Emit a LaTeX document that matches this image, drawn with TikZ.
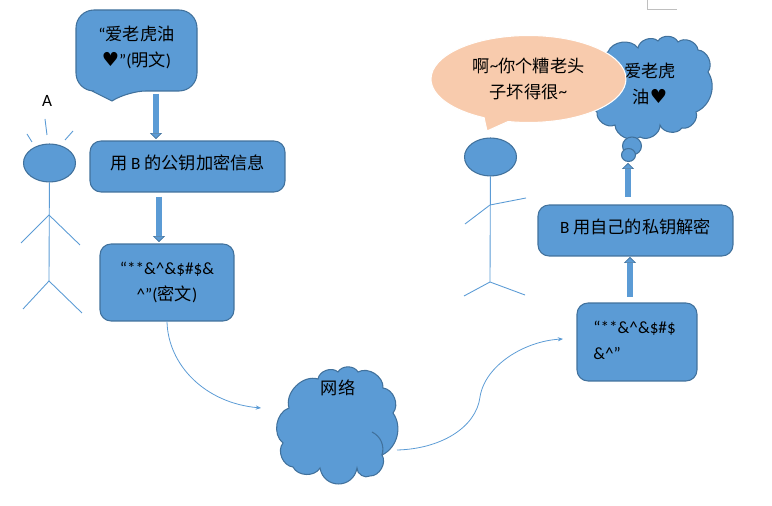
\documentclass[tikz,border=0pt]{standalone}
\usepackage{fontspec}
\setmainfont{Carlito}
\newfontfamily\zhfont{Noto Sans CJK SC}
\newfontfamily\symfont{DejaVu Sans}
\usepackage{tikz}
\usetikzlibrary{calc,arrows.meta,shapes.geometric,shapes.callouts}
\definecolor{colorbox}{HTML}{5B9BD5}
\definecolor{colorrim}{HTML}{41719C}
\definecolor{colortalk}{HTML}{F8CBAD}
\definecolor{colorpage}{HTML}{BFBFBF}
\tikzset{
  msgbox/.style={draw=colorrim, fill=colorbox, line width=0.6pt, rounded corners=0.22cm, inner sep=0pt, align=center},
  msgtext/.style={inner sep=0pt, align=center},
  head/.style={ellipse, draw=colorrim, fill=colorbox, line width=0.6pt, minimum width=1.04cm, minimum height=0.76cm, inner sep=0pt},
  stick/.style={colorbox, line width=0.5pt},
  netcloud/.style={draw=colorrim, fill=colorbox, line width=0.6pt, bend left=62},
  blockarrow/.style={draw=colorrim, double=colorbox, double distance=3.2pt, line width=0.35pt, -{Triangle[width=7pt, length=3.4pt, fill=colorbox]}},
  edgeflow/.style={colorbox, line width=0.45pt, -{Stealth[length=3pt, width=2.4pt]}}
}
\newcommand\zh[1]{{\zhfont #1}}
\newcommand\heartmark{{\symfont\fontsize{11}{11}\selectfont ♥}}
\begin{document}
\begin{tikzpicture}[x=0.02cm, y=-0.02cm, font=\fontsize{9.8}{14.8}\selectfont]
\useasboundingbox (0,0) rectangle (772,506);

\draw[colorpage, line width=0.4pt] (647,0) -- (647,9) -- (677,9);

% left side
\draw[msgbox, rounded corners=0.36cm] (76,50) |- (197,10) |- (128,91)
  [sharp corners] -- (112,101) -- (92,91) [rounded corners=0.36cm] -| (76,50) -- cycle;
\node[msgtext](plain) at (136.5,47)
{``\zh{爱老虎油}\\\heartmark''(\zh{明文})};

\node[msgbox, minimum width=3.9cm, minimum height=1.02cm, text depth=0.16cm](encrypt) at (187.5,166.5)
{\zh{用} B \zh{的公钥加密信息}};

\node[msgbox, minimum width=2.68cm, minimum height=1.54cm](cipher) at (167,282.5)
{``**\&\^{}\&\$\#\$\&\\\^{}''(\zh{密文})};

\coordinate (plainout) at (156,94);
\coordinate (encryptin) at (156,139);
\coordinate (encryptout) at (159,197);
\coordinate (cipherin) at (159,242);
\draw[blockarrow] (plainout) -- (encryptin);
\draw[blockarrow] (encryptout) -- (cipherin);

% sender
\node[msgtext](nameA) at (47,101) {A};
\node[head](headA) at (49.5,163) {};
\coordinate (neckA) at (49,215);
\coordinate (hipA) at (49,281);
\draw[stick] (headA) -- (hipA);
\draw[stick] (21,243) -- (neckA) -- (80,245);
\draw[stick] (23,309) -- (hipA) -- (82,313);
\draw[stick] (27,134) -- (32,142);
\draw[stick] (45,119) -- (47,135);
\draw[stick] (73,131) -- (65,140);

% network
\draw[netcloud] (289,408) to (318,379) to (338,372) to (358,372) to (383,388)
  to (393,413) to[bend left=50] (382,455) to (370,476) to (357,468)
  to[bend left=80, looseness=1.5] (320,468) to (293,467) to (283,443) to (289,408) -- cycle;
\draw[netcloud, fill=none, bend left=40] (372,432) to (382,455);
\node[msgtext](nettext) at (338,388) {\zh{网络}};
\coordinate (netin) at (261,408);
\coordinate (netout) at (397,450);
\coordinate (recvin) at (563,339);
\draw[edgeflow] (cipher.south) .. controls (168,365) and (205,403) .. (netin);
\draw[edgeflow] (netout) .. controls (440,449) and (476,428) .. (480,397)
  .. controls (485,365) and (525,341) .. (recvin);

% right side
\node[msgbox, minimum width=2.4cm, minimum height=1.56cm](recv) at (637,342) {};
\node[msgtext, align=left, anchor=west](recvtext) at (593,340)
{``**\&\^{}\&\$\#\$\\\&\^{}''};

\node[msgbox, minimum width=3.9cm, minimum height=1.02cm, text depth=0.16cm](decrypt) at (635.5,230.5)
{B \zh{用自己的私钥解密}};

\coordinate (recvout) at (630,297);
\coordinate (decryptin) at (630,257);
\coordinate (decryptout) at (628,197);
\coordinate (thinkin) at (628,163);
\draw[blockarrow] (recvout) -- (decryptin);
\draw[blockarrow] (decryptout) -- (thinkin);

% thought
\draw[netcloud] (608,52) to (638,48) to (658,41) to (678,42) to (698,50) to (708,72)
  to[bend left=50] (696,112) to (682,128) to (660,125) to (640,137) to (615,125) to (597,112)
  to (608,52) -- cycle;
\node[head, minimum width=0.38cm, minimum height=0.36cm](bubblebig) at (632,146) {};
\node[head, minimum width=0.28cm, minimum height=0.26cm](bubblesmall) at (628.5,155) {};
\node[msgtext](thinktext) at (650,84) {\zh{爱老虎}\\\zh{油}\heartmark};

% speech
\node[ellipse callout, draw=white, fill=colortalk, line width=0.6pt, inner sep=0pt,
  minimum width=3.9cm, minimum height=1.74cm, align=center,
  callout absolute pointer={(487,131)}](talk) at (528.5,79)
{\zh{啊}\raisebox{0.5pt}{\textasciitilde}\zh{你个糟老头}\\\zh{子坏得很}\raisebox{0.5pt}{\textasciitilde}};

% receiver
\node[head](headB) at (490.5,157) {};
\coordinate (neckB) at (490,205);
\coordinate (hipB) at (490,282);
\draw[stick] (headB) -- (hipB);
\draw[stick] (465,224) -- (neckB) -- (526,198);
\draw[stick] (464,296) -- (hipB) -- (525,295);
\end{tikzpicture}
\end{document}
